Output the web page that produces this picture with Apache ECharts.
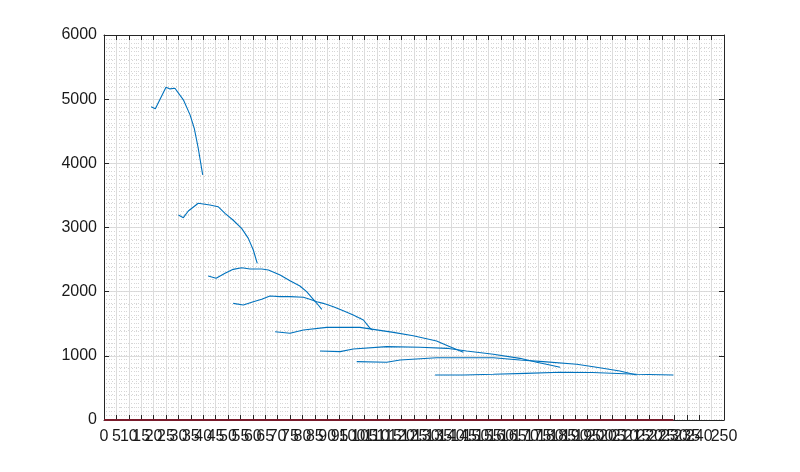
<!DOCTYPE html>
<html>
<head>
<meta charset="utf-8">
<script src="https://cdn.jsdelivr.net/npm/echarts@6/dist/echarts.min.js"></script>
<style>
html,body{margin:0;padding:0;background:#fff;}
#c{width:800px;height:472px;}
</style>
</head>
<body>
<div id="c"></div>
<script>
// x / y pairs
const seg1 = [[19,4880],[20.7,4850],[25,5185],[26.6,5160],[28.6,5170],[29.3,5175],[32,4990],[34.7,4755],[36.4,4545],[38,4235],[39.8,3820]];
const seg2 = [[30,3195],[32,3153],[34,3257],[38,3377],[40,3366],[42.7,3350],[46,3324],[48.8,3221],[52,3117],[55.5,2987],[58.2,2831],[60.2,2649],[61.8,2442]];
const seg3 = [[42,2244],[45.2,2208],[48.8,2286],[52.1,2348],[55.5,2374],[58.9,2353],[63.6,2353],[66.3,2337],[71,2260],[75,2171],[79,2088],[81.7,2000],[84.4,1881],[86.4,1792],[87.8,1725]];
const seg4 = [[52.1,1818],[56.2,1792],[60.2,1844],[63.6,1881],[66.9,1932],[71,1922],[75,1922],[80.4,1912],[83,1881],[85.8,1844],[88.4,1818],[92.5,1766],[96.5,1703],[100.5,1636],[104.6,1558],[107.3,1429],[108.3,1400]];
const seg5 = [[69,1376],[75,1351],[80.4,1403],[89.8,1444],[103.2,1444],[108.6,1413],[116.7,1366],[124.7,1314],[134.1,1231],[139.5,1143],[144.9,1055]];
const seg6 = [[87.1,1075],[95.2,1065],[100.5,1106],[114,1143],[127.4,1133],[138.2,1117],[146.2,1075],[157,1024],[167.7,961],[174.5,899],[179.8,857],[183.9,821]];
const seg7 = [[101.9,909],[114,899],[119.4,935],[134.1,971],[157,971],[167.7,935],[177.1,909],[190.6,868],[197.3,831],[208,764],[214.8,701]];
const seg8 = [[133.5,701],[145,701],[157,712],[170,727],[184,743],[197,740],[214.8,712],[229.6,701]];
const baseLine = [[0,0],[229.6,0]];
const segments = [seg1, seg2, seg3, seg4, seg5, seg6, seg7, seg8];

const xMin = 0, xMax = 250, xStep = 5;
const yMin = 0, yMax = 6000, yStep = 1000;

const frame = '#262626';
const font = 'Liberation Sans, Arial, sans-serif';

const chart = echarts.init(document.getElementById('c'), null, {renderer: 'canvas'});
const series = segments.map(s => ({
  type: 'line', data: s, showSymbol: false, symbol: 'none',
  lineStyle: {color: '#0072BD', width: 1.1}, itemStyle: {color: '#0072BD'},
  xAxisIndex: 0, yAxisIndex: 0, z: 3, silent: true
}));
series.push({
  type: 'line', data: baseLine, showSymbol: false, symbol: 'none',
  lineStyle: {color: '#7a1c2c', width: 1.8}, z: 4, silent: true
});

const minorLine = {show: true, lineStyle: {color: '#d6d6d6', width: 1, type: [1, 3]}};
const majorLine = {show: true, lineStyle: {color: '#dcdcdc', width: 1, type: 'solid'}};

chart.setOption({
  animation: false,
  backgroundColor: '#fff',
  grid: {left: 104, right: 76, top: 35, bottom: 52, containLabel: false},
  xAxis: [{
    type: 'value', min: xMin, max: xMax, interval: xStep, position: 'bottom',
    axisLine: {show: true, onZero: false, lineStyle: {color: frame, width: 1}},
    axisTick: {show: true, inside: true, length: 5, lineStyle: {color: frame}},
    axisLabel: {show: true, margin: 9, color: '#1a1a1a', fontSize: 16, fontFamily: font, showMinLabel: true, showMaxLabel: true,
      formatter: v => String(v)},
    splitLine: majorLine,
    minorTick: {show: false, splitNumber: 5},
    minorSplitLine: minorLine
  }, {
    type: 'value', min: xMin, max: xMax, interval: xStep, position: 'top',
    axisLine: {show: true, onZero: false, lineStyle: {color: frame, width: 1}},
    axisTick: {show: true, inside: true, length: 5, lineStyle: {color: frame}},
    axisLabel: {show: false}, splitLine: {show: false}
  }],
  yAxis: [{
    type: 'value', min: yMin, max: yMax, interval: yStep, position: 'left',
    axisLine: {show: true, onZero: false, lineStyle: {color: frame, width: 1}},
    axisTick: {show: true, inside: true, length: 5, lineStyle: {color: frame}},
    axisLabel: {show: true, margin: 7, color: '#1a1a1a', fontSize: 16, fontFamily: font,
      formatter: v => String(v)},
    splitLine: majorLine,
    minorTick: {show: false, splitNumber: 5},
    minorSplitLine: minorLine
  }, {
    type: 'value', min: yMin, max: yMax, interval: yStep, position: 'right',
    axisLine: {show: true, onZero: false, lineStyle: {color: frame, width: 1}},
    axisTick: {show: true, inside: true, length: 5, lineStyle: {color: frame}},
    axisLabel: {show: false}, splitLine: {show: false}
  }],
  series: series
});
</script>
</body>
</html>
